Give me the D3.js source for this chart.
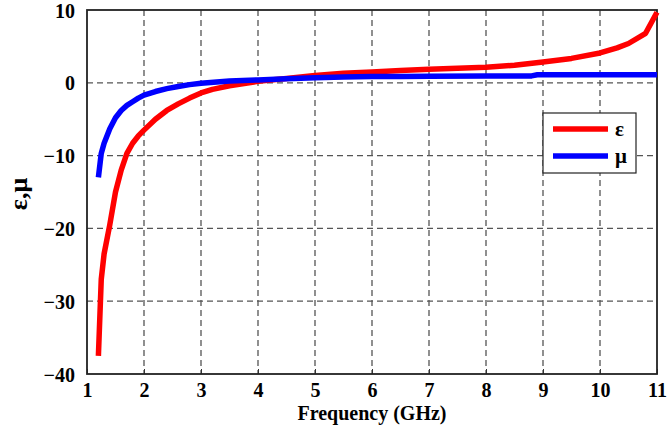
<!DOCTYPE html>
<html>
<head>
<meta charset="utf-8">
<script src="https://cdn.jsdelivr.net/npm/d3@7"></script>
<style>
  body { margin: 0; background: #fff; }
  text { font-family: "Liberation Serif", "Times New Roman", serif; font-weight: bold; }
</style>
</head>
<body>
<svg id="chart"></svg>
<script>
// frequency (GHz) and values
const freqEps = [1.2, 1.25, 1.3, 1.4, 1.5, 1.6, 1.7, 1.8, 1.9, 2.0, 2.2, 2.4, 2.6, 2.8, 3.0, 3.2, 3.5, 4.0, 4.5, 5.0, 5.5, 6.0, 6.5, 7.0, 7.5, 8.0, 8.5, 9.0, 9.5, 10.0, 10.3, 10.5, 10.8, 11.0]
const epsValues = [-37.5, -27, -23.5, -19.5, -15, -12, -9.7, -8.3, -7.3, -6.5, -5.0, -3.8, -2.9, -2.1, -1.4, -0.9, -0.4, 0.2, 0.6, 1.0, 1.3, 1.5, 1.7, 1.85, 2.0, 2.15, 2.4, 2.85, 3.35, 4.1, 4.8, 5.4, 6.8, 9.7]

const freqMu = [1.2, 1.25, 1.3, 1.4, 1.5, 1.6, 1.7, 1.8, 1.9, 2.0, 2.2, 2.4, 2.6, 2.8, 3.0, 3.5, 4.0, 4.5, 5.0, 5.5, 6.0, 6.5, 7.0, 8.0, 8.8, 8.9, 11.0]
const muValues = [-13, -9.7, -8.3, -6.3, -4.8, -3.8, -3.1, -2.6, -2.1, -1.7, -1.2, -0.8, -0.5, -0.25, -0.05, 0.25, 0.4, 0.55, 0.7, 0.78, 0.85, 0.88, 0.9, 0.92, 0.95, 1.1, 1.1]

const xTicks = [1, 2, 3, 4, 5, 6, 7, 8, 9, 10, 11]
const yTicks = [-40, -30, -20, -10, 0, 10]
const legendLabels = ['ε', 'μ']

const width = 668
const height = 433
const margin = { top: 10, right: 11, bottom: 59, left: 87 }

//set up svg container
const svg = d3.select('#chart')
    .attr('width', width)
    .attr('height', height)

const x = d3.scaleLinear().domain([1, 11]).range([margin.left, width - margin.right])
const y = d3.scaleLinear().domain([-40, 10]).range([height - margin.bottom, margin.top])

// grid
svg.append('g')
    .selectAll('line')
    .data(xTicks.slice(1, -1))
    .join('line')
    .attr('x1', d => x(d)).attr('x2', d => x(d))
    .attr('y1', y(10)).attr('y2', y(-40))
    .attr('stroke', '#555').attr('stroke-width', 1.3).attr('stroke-dasharray', '6,4')

svg.append('g')
    .selectAll('line')
    .data(yTicks.slice(1, -1))
    .join('line')
    .attr('x1', x(1)).attr('x2', x(11))
    .attr('y1', d => y(d)).attr('y2', d => y(d))
    .attr('stroke', '#555').attr('stroke-width', 1.3).attr('stroke-dasharray', '6,4')

// axes
const xAxis = svg.append('g')
    .attr('transform', `translate(0,${y(-40)})`)
    .call(d3.axisBottom(x).tickValues(xTicks).tickSize(-5).tickPadding(9))
const yAxis = svg.append('g')
    .attr('transform', `translate(${x(1)},0)`)
    .call(d3.axisLeft(y).tickValues(yTicks).tickSize(0).tickPadding(12))

;[xAxis, yAxis].forEach(g => {
    g.select('.domain').remove()
    g.selectAll('line').attr('stroke', '#333').attr('stroke-width', 1)
    g.selectAll('text')
        .attr('font-size', 20)
        .attr('font-family', '"Liberation Serif", serif')
        .attr('font-weight', 'bold')
        .attr('fill', '#000')
})
yAxis.selectAll('text').attr('dy', '0.35em')

// frame
svg.append('rect')
    .attr('x', x(1)).attr('y', y(10))
    .attr('width', x(11) - x(1)).attr('height', y(-40) - y(10))
    .attr('fill', 'none').attr('stroke', '#222').attr('stroke-width', 1.8)

// curves
const line = d3.line().x(d => x(d[0])).y(d => y(d[1]))
const epsData = d3.zip(freqEps, epsValues)
const muData = d3.zip(freqMu, muValues)

svg.append('path').datum(epsData)
    .attr('d', line).attr('fill', 'none')
    .attr('stroke', '#ff0000').attr('stroke-width', 5.5).attr('stroke-linejoin', 'round')

svg.append('path').datum(muData)
    .attr('d', line).attr('fill', 'none')
    .attr('stroke', '#0000ff').attr('stroke-width', 5.5).attr('stroke-linejoin', 'round')

// legend
const legend = svg.append('g').attr('transform', 'translate(543,113)')
legend.append('rect')
    .attr('width', 93).attr('height', 60)
    .attr('fill', '#fff').attr('stroke', '#222').attr('stroke-width', 1.2)

const legendColors = ['#ff0000', '#0000ff']
legend.selectAll('line.key')
    .data(legendLabels)
    .join('line')
    .attr('x1', 10).attr('x2', 65)
    .attr('y1', (d, i) => 16 + i * 27).attr('y2', (d, i) => 16 + i * 27)
    .attr('stroke', (d, i) => legendColors[i]).attr('stroke-width', 5.5)

legend.selectAll('text')
    .data(legendLabels)
    .join('text')
    .text(d => d)
    .attr('x', 72)
    .attr('y', (d, i) => 16 + i * 27)
    .attr('dy', '0.35em')
    .attr('font-size', 21)

// axis titles
svg.append('text')
    .text('Frequency (GHz)')
    .attr('x', 372).attr('y', 420)
    .attr('text-anchor', 'middle')
    .attr('font-size', 20)

svg.append('text')
    .text('ε,μ')
    .attr('transform', 'translate(27,194) rotate(-90)')
    .attr('text-anchor', 'middle')
    .attr('font-size', 26)
</script>
</body>
</html>
